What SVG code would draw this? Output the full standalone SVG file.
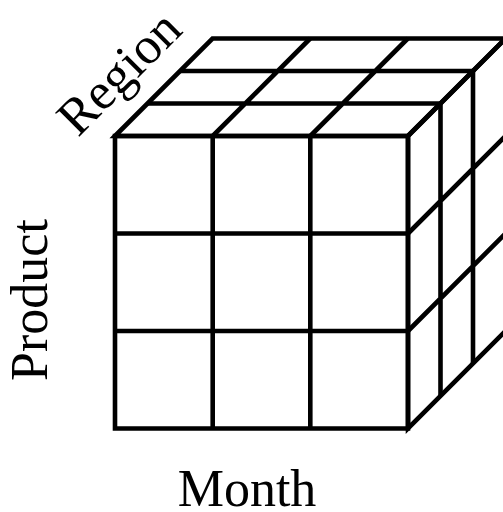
<svg xmlns="http://www.w3.org/2000/svg" width="503" height="512" viewBox="0 0 503 512">
<style>
.e{fill:none;stroke:#000;stroke-width:4.6;stroke-linejoin:miter;stroke-linecap:butt}
.t{font-family:"Liberation Serif","Times New Roman",serif;font-size:52px;fill:#000}
</style>
<rect width="503" height="512" fill="#fff"/>
<g id="cube">
<path class="e" d="M115,136H408V428.5H115Z"/>
<path class="e" d="M212.7,233.5H408M115,233.5H212.7M115,331H408M212.7,136V428.5M310.3,136V428.5"/>
<path class="e" d="M115,136L212.5,38.5H505.5L408,136Z"/>
<path class="e" d="M147.5,103.5H440.5M180,71H473M212.7,136L310.2,38.5M310.3,136L407.8,38.5"/>
<path class="e" d="M408,136L505.5,38.5V331L408,428.5Z"/>
<path class="e" d="M440.5,103.5V396M473,71V363.5M408,233.5L505.5,136M408,331L505.5,233.5"/>
</g>
<g id="labels">
<text class="t" x="247" y="506" text-anchor="middle">Month</text>
<text class="t" transform="translate(47,300) rotate(-90)" text-anchor="middle">Product</text>
<text class="t" transform="translate(78,138) rotate(-45)">Region</text>
</g>
</svg>
